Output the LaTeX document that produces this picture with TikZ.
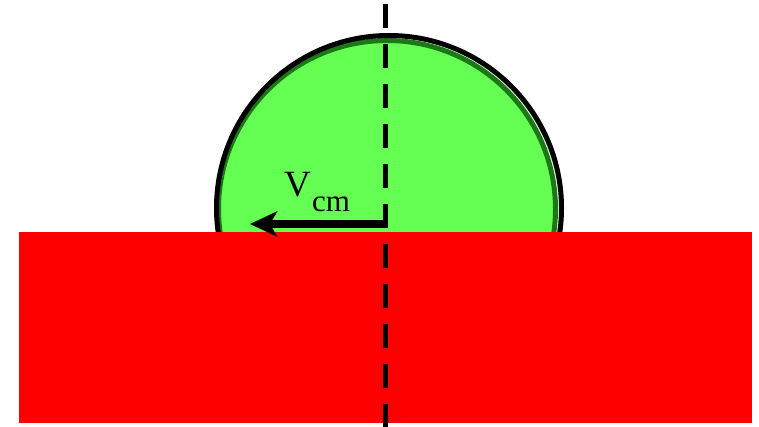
\documentclass[tikz,border=0pt]{standalone}
\usepackage{fontspec}
\setmainfont{Liberation Serif}
\usetikzlibrary{arrows.meta}
\definecolor{ballfill}{RGB}{100,255,82}
\definecolor{ballrim}{RGB}{28,120,22}
\definecolor{groundred}{RGB}{255,0,0}
\tikzset{
  rim/.style={draw=ballrim,line width=5pt,fill=ballfill},
  outline/.style={draw=black,line width=5pt},
  ground/.style={fill=groundred,draw=none},
  axisline/.style={draw=black,line width=5pt,dash pattern=on 24pt off 16pt},
  velarrow/.style={draw=black,line width=7.5pt,-{Stealth[length=27pt,width=25pt,inset=7pt]}},
  vlabel/.style={inner sep=0pt,anchor=base west}
}
\begin{document}
\begin{tikzpicture}[x=1pt,y=-1pt]
\useasboundingbox (0,0) rectangle (759,427);
\fill[white] (0,0) rectangle (759,427);
% ball
\path[rim] (387,209) circle (168.5);
\draw[white!60!ballfill,line width=0.8pt] (387.5,208.5) circle (171.3);
\path[outline] (389,208) circle (172.5);
% ground
\path[ground] (19,232) rectangle (752,422.5);
% axis
\coordinate (top) at (385,4);
\coordinate (bot) at (385,430);
\path[axisline] (top) -- (bot);
% velocity arrow
\coordinate (c) at (385,224);
\coordinate (tip) at (250,224);
\path[velarrow] (c) -- (tip);
\draw[black,line width=5pt] (385,204) -- (385,228);
% label
\node[vlabel] (v) at (284,197) {\fontsize{37}{40}\selectfont V};
\node[vlabel] (cm) at (312,211.5) {\fontsize{31}{34}\selectfont cm};
\end{tikzpicture}
\end{document}
